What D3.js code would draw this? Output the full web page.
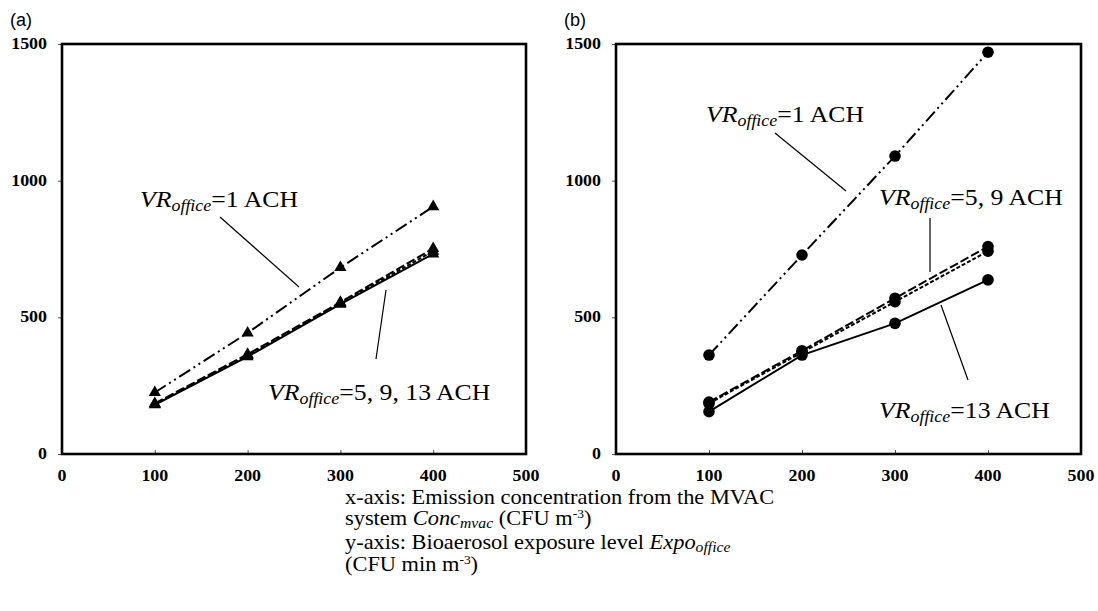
<!DOCTYPE html>
<html>
<head>
<meta charset="utf-8">
<script src="https://cdn.jsdelivr.net/npm/d3@7"></script>
<style>
  body { margin: 0; background: #fff; }
  svg { display: block; }
  text { font-family: "Liberation Serif", "Times New Roman", serif; }
</style>
</head>
<body>
<div id="chart"></div>
<script>
// x values shared by all series
var xVals = [100, 200, 300, 400];
var xTicks = [0, 100, 200, 300, 400, 500];
var yTicks = [0, 500, 1000, 1500];

// panel (a) - triangles
var aVR1 = [225, 443, 682, 905];
var aVR5 = [185, 365, 555, 752];
var aVR9 = [182, 360, 551, 742];
var aVR13 = [180, 356, 548, 732];

// panel (b) - circles
var bVR1 = [362, 728, 1090, 1470];
var bVR5 = [190, 378, 570, 759];
var bVR9 = [185, 372, 557, 742];
var bVR13 = [155, 362, 478, 637];

var W = 1098, H = 611;
var SX = 1.12; // the figure's text is a bit wide
var svg = d3.select("#chart").append("svg").attr("width", W).attr("height", H);

var styles = {
    vr1: "13,4,2,4,2,4",
    vr5: "9,3",
    vr9: "4,2",
    vr13: null
};

function at(x, y) { return "translate(" + x + "," + y + ") scale(" + SX + ",1)"; }

function panel(opt) {
    var x = d3.scaleLinear().domain([0, 500]).range([opt.left, opt.right]);
    var y = d3.scaleLinear().domain([0, 1500]).range([454, 44]);
    var g = svg.append("g");

    // ticks
    g.append("g").attr("transform", "translate(0,454)")
        .call(d3.axisBottom(x).tickValues(xTicks).tickSizeInner(-4).tickSizeOuter(0).tickFormat(""))
        .call(function(s) { s.select(".domain").remove(); s.selectAll("line").attr("stroke", "#555"); });
    g.append("g").attr("transform", "translate(" + opt.left + ",0)")
        .call(d3.axisLeft(y).tickValues(yTicks).tickSizeInner(4).tickSizeOuter(0).tickFormat(""))
        .call(function(s) { s.select(".domain").remove(); s.selectAll("line").attr("stroke", "#555"); });

    // tick labels
    g.selectAll(".xl").data(xTicks).enter().append("text")
        .attr("transform", function(d) { return at(x(d), 481); })
        .attr("text-anchor", "middle").attr("font-weight", "bold").attr("font-size", 16)
        .text(function(d) { return d; });
    g.selectAll(".yl").data(yTicks).enter().append("text")
        .attr("transform", function(d) { return at(opt.left - 15, y(d) + 5); })
        .attr("text-anchor", "end").attr("font-weight", "bold").attr("font-size", 16)
        .text(function(d) { return d; });

    // frame
    g.append("rect").attr("x", opt.left).attr("y", 44)
        .attr("width", opt.right - opt.left).attr("height", 410)
        .attr("fill", "none").attr("stroke", "#000").attr("stroke-width", 2.6);

    var line = d3.line().x(function(d) { return x(d[0]); }).y(function(d) { return y(d[1]); });

    opt.series.forEach(function(s) {
        var pts = xVals.map(function(v, i) { return [v, s.vals[i]]; });
        g.append("path").datum(pts).attr("d", line)
            .attr("fill", "none").attr("stroke", "#000").attr("stroke-width", 2)
            .attr("stroke-dasharray", s.dash);
        if (opt.marker === "tri") {
            g.selectAll(null).data(pts).enter().append("path")
                .attr("d", d3.symbol().type(d3.symbolTriangle).size(64))
                .attr("transform", function(d) { return "translate(" + x(d[0]) + "," + y(d[1]) + ")"; })
                .attr("fill", "#000");
        } else {
            g.selectAll(null).data(pts).enter().append("circle")
                .attr("cx", function(d) { return x(d[0]); }).attr("cy", function(d) { return y(d[1]); })
                .attr("r", 5.8).attr("fill", "#000");
        }
    });

    // panel letter
    g.append("text").attr("x", opt.left - 52).attr("y", 26)
        .attr("font-size", 18)
        .style("font-family", "'Liberation Sans', Arial, sans-serif")
        .text(opt.name);

    opt.notes.forEach(function(n) {
        g.append("line").attr("x1", n.l[0]).attr("y1", n.l[1]).attr("x2", n.l[2]).attr("y2", n.l[3])
            .attr("stroke", "#000").attr("stroke-width", 1.2);
        var t = g.append("text").attr("transform", at(n.x, n.y)).attr("font-size", 23);
        t.append("tspan").attr("font-style", "italic").text("VR");
        t.append("tspan").attr("font-style", "italic").attr("font-size", 16).attr("dy", 4).text("office");
        t.append("tspan").attr("dy", -4).text("=" + n.t);
    });
}

panel({
    name: "(a)", left: 62, right: 526, marker: "tri",
    series: [
        { vals: aVR1, dash: styles.vr1 },
        { vals: aVR5, dash: styles.vr5 },
        { vals: aVR9, dash: styles.vr9 },
        { vals: aVR13, dash: styles.vr13 }
    ],
    notes: [
        { x: 140, y: 207, t: "1 ACH", l: [220, 217, 299, 287] },
        { x: 268, y: 400, t: "5, 9, 13 ACH", l: [386, 290, 376, 359] }
    ]
});

panel({
    name: "(b)", left: 616, right: 1081, marker: "dot",
    series: [
        { vals: bVR1, dash: styles.vr1 },
        { vals: bVR5, dash: styles.vr5 },
        { vals: bVR9, dash: styles.vr9 },
        { vals: bVR13, dash: styles.vr13 }
    ],
    notes: [
        { x: 706, y: 122, t: "1 ACH", l: [775, 133, 846, 191] },
        { x: 879, y: 205, t: "5, 9 ACH", l: [930, 218, 930, 272] },
        { x: 879, y: 418, t: "13 ACH", l: [941, 305, 968, 380] }
    ]
});

// caption
var cap = svg.append("g").attr("font-size", 20);
var c1 = cap.append("text").attr("transform", at(345, 504));
c1.text("x-axis: Emission concentration from the MVAC");
var c2 = cap.append("text").attr("transform", at(345, 525));
c2.append("tspan").text("system ");
c2.append("tspan").attr("font-style", "italic").text("Conc");
c2.append("tspan").attr("font-style", "italic").attr("font-size", 14).attr("dy", 3).text("mvac");
c2.append("tspan").attr("dy", -3).text(" (CFU m");
c2.append("tspan").attr("font-size", 12).attr("dy", -7).text("-3");
c2.append("tspan").attr("dy", 7).text(")");
var c3 = cap.append("text").attr("transform", at(345, 549));
c3.append("tspan").text("y-axis: Bioaerosol exposure level ");
c3.append("tspan").attr("font-style", "italic").text("Expo");
c3.append("tspan").attr("font-style", "italic").attr("font-size", 14).attr("dy", 3).text("office");
var c4 = cap.append("text").attr("transform", at(345, 571));
c4.append("tspan").text("(CFU min m");
c4.append("tspan").attr("font-size", 12).attr("dy", -7).text("-3");
c4.append("tspan").attr("dy", 7).text(")");
</script>
</body>
</html>
